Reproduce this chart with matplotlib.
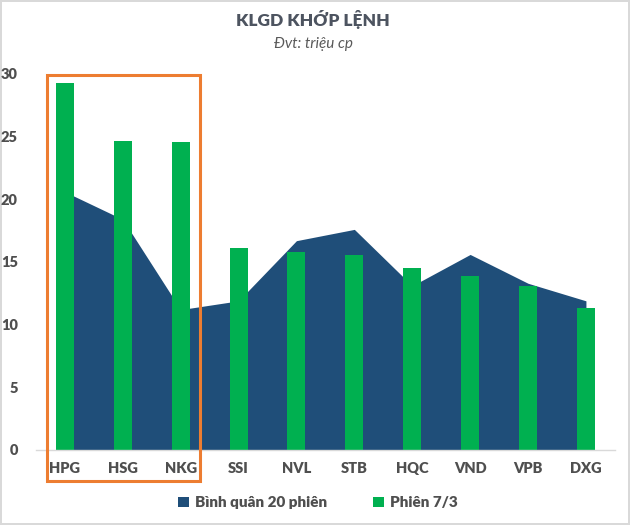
import matplotlib
matplotlib.use("Agg")
import matplotlib.pyplot as plt
from matplotlib.patches import Rectangle
import numpy as np

categories = ["HPG", "HSG", "NKG", "SSI", "NVL", "STB", "HQC", "VND", "VPB", "DXG"]
avg20 = [20.6, 18.4, 11.2, 11.9, 16.7, 17.6, 13.1, 15.6, 13.3, 11.9]
session = [29.25, 24.65, 24.6, 16.15, 15.8, 15.55, 14.5, 13.85, 13.1, 11.35]
yticks = [0, 5, 10, 15, 20, 25, 30]

plt.rcParams['font.family'] = ['Lato', 'DejaVu Sans']

navy = "#1F4E79"
green = "#00B050"
grey = "#4F4F4F"

fig = plt.figure(figsize=(6.3, 5.25), dpi=100)
fig.patch.set_edgecolor("#D9D9D9")
fig.patch.set_linewidth(1.5)
ax = fig.add_axes([0.057, 0.1429, 0.919, 0.7162])

x = np.arange(len(categories))
ax.fill_between(x, avg20, 0, color=navy, linewidth=0, zorder=1, label="Bình quân 20 phiên")
ax.bar(x, session, width=0.31, color=green, zorder=2, label="Phiên 7/3")

ax.set_xlim(-0.5, len(categories) - 0.5)
ax.set_ylim(0, 30)
ax.set_yticks(yticks)
ax.set_yticklabels([str(t) for t in yticks], fontsize=10.5, color=grey, fontweight='heavy')
ax.set_xticks(x)
ax.set_xticklabels(categories, fontsize=10.5, color=grey, fontweight='heavy')
ax.tick_params(axis='both', length=0)
ax.tick_params(axis='y', pad=13)
ax.tick_params(axis='x', pad=9)
for s in ["top", "right", "left"]:
    ax.spines[s].set_visible(False)
ax.spines["bottom"].set_color("#D9D9D9")
ax.spines["bottom"].set_linewidth(1)

rect = Rectangle((-0.31, -2.47), 2.64, 32.4, fill=False, edgecolor="#ED7D31",
                 linewidth=2.2, clip_on=False, zorder=5)
ax.add_patch(rect)

fig.text(0.497, 0.962, "KLGD KHỚP LỆNH", ha='center', va='center', fontsize=12.5,
         fontweight='heavy', color="#4D5460")
fig.text(0.497, 0.916, "Đvt: triệu cp", ha='center', va='center', fontsize=11,
         style='italic', color="#595959")

leg = fig.legend(loc='center', bbox_to_anchor=(0.505, 0.042), ncol=2, frameon=False,
                 fontsize=11, handlelength=0.7, handleheight=0.7, columnspacing=3,
                 handletextpad=0.4)
for t in leg.get_texts():
    t.set_color(grey)
    t.set_fontweight('heavy')

fig.savefig("out.png", dpi=100)
